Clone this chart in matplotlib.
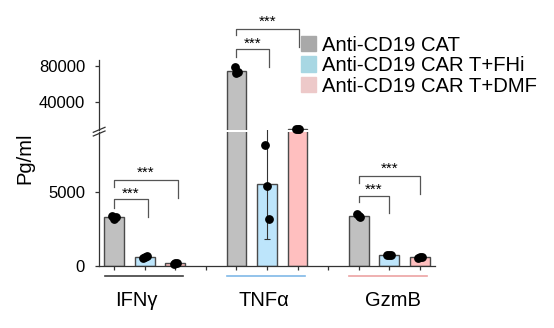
import numpy as np
import matplotlib
matplotlib.use("Agg")
from matplotlib import pyplot as plt
from matplotlib.patches import Rectangle
from matplotlib.lines import Line2D

plt.rcParams['font.family'] = ['Liberation Sans', 'DejaVu Sans']

# cytokine groups and treatments
cytokines = ["IFNγ", "TNFα", "GzmB"]
treatments = ["Anti-CD19 CAT", "Anti-CD19 CAR T+FHi", "Anti-CD19 CAR T+DMF"]

# mean concentration (pg/ml) per cytokine, one value per treatment
means = {
    "IFNγ": [3290, 575, 165],
    "TNFα": [74650, 5600, 10700],
    "GzmB": [3420, 710, 575],
}
errors = {
    "IFNγ": [120, 60, 30],
    "TNFα": [3300, 3800, 120],
    "GzmB": [90, 20, 40],
}
# individual replicates
replicates = {
    "IFNγ": [[3400, 3150, 3320], [500, 560, 650], [140, 160, 190]],
    "TNFα": [[78500, 72000, 73500], [8200, 5400, 3200], [10600, 10800, 10700]],
    "GzmB": [[3520, 3380, 3350], [700, 730, 710], [540, 580, 610]],
}
# significance brackets: (left, right, top, left leg end, right leg end, star height)
brackets = {
    "IFNγ": [(0, 1.1, 4520, 3930, 3340, 5230), (0, 2.07, 5840, 5360, 4610, 6680)],
    "TNFα": [(0, 1.08, 98250, 89840, 78910, 108850), (0, 2.05, 119780, 113550, 100770, 132900)],
    "GzmB": [(0, 1.0, 4770, 4360, 3570, 5500), (0, 2.0, 6130, 5610, 4880, 6910)],
}

bar_colors = ["#c0c0c0", "#bde5fb", "#ffbfbf"]
legend_colors = ["#a9a9a9", "#a8d7e3", "#edc9c9"]
line_colors = ["#404040", "#80b9e8", "#eca3a3"]
label_nudge = [-0.27, -0.1, 0.11]

fig = plt.figure(figsize=(5.54, 3.28), dpi=100)
W, H = 554, 328
ax_lo = fig.add_axes([99 / W, (H - 265.7) / H, 336 / W, 134 / H])
ax_hi = fig.add_axes([99 / W, (H - 129.7) / H, 336 / W, 69.7 / H])

ax_lo.set_ylim(0, 9130)
ax_hi.set_ylim(10050, 86230)
for ax in (ax_lo, ax_hi):
    ax.set_xlim(-0.5, 10.5)
    ax.spines['top'].set_visible(False)
    ax.spines['right'].set_visible(False)
    ax.spines['left'].set_color('#333333')
    ax.spines['left'].set_linewidth(0.9)
    ax.tick_params(axis='y', length=3, width=0.9, color='#333333', pad=7, labelsize=12)
ax_hi.spines['bottom'].set_visible(False)
ax_hi.set_xticks([])
ax_hi.set_yticks([40000, 80000])
ax_lo.set_yticks([0, 5000])
ax_lo.spines['bottom'].set_color('#333333')
ax_lo.spines['bottom'].set_linewidth(0.9)
ax_lo.set_xticks(np.arange(11))
ax_lo.set_xticklabels([])
ax_lo.tick_params(axis='x', length=3, width=0.9, color='#333333')

width = 0.65
for g, name in enumerate(cytokines):
    base = 4 * g
    xs = base + np.arange(3)
    for ax in (ax_lo, ax_hi):
        ax.bar(xs, means[name], width=width, color=bar_colors,
               edgecolor='#4a4a4a', linewidth=1.0, zorder=2)
    for j in range(3):
        m, e = means[name][j], errors[name][j]
        ax = ax_hi if m > 10050 else ax_lo
        ax.errorbar(xs[j], m, yerr=e, fmt='none', ecolor='#333333',
                    elinewidth=0.8, capsize=2, capthick=0.8, zorder=3, clip_on=False)
        pts = replicates[name][j]
        jit = np.array([-0.06, 0.0, 0.06])
        for v, dx in zip(pts, jit):
            a = ax_hi if v > 10050 else ax_lo
            a.scatter(xs[j] + dx, v, s=28, color='black', zorder=4, clip_on=False)

    # significance brackets
    bax = ax_hi if name == "TNFα" else ax_lo
    for x0, x1, top, yl, yr, ys in brackets[name]:
        bax.plot([base + x0, base + x0, base + x1, base + x1], [yl, top, top, yr],
                 color='#555555', lw=0.9, clip_on=False, zorder=3)
        bax.annotate('***', (base + (x0 + x1) / 2, ys), xytext=(0, -6.3),
                     textcoords='offset points', ha='center', va='baseline',
                     fontsize=11, annotation_clip=False)

    # group underline and label
    trans = ax_lo.get_xaxis_transform()
    ax_lo.plot([base - 0.3, base + 2.25], [-10 / 134, -10 / 134], color=line_colors[g],
               lw=1.2, transform=trans, clip_on=False)
    ax_lo.text(base + 1 + label_nudge[g], -34.3 / 134, name, transform=trans,
               ha='center', va='center', fontsize=14.5)

# axis break marks
for y0 in (132.3, 136.0):
    fig.add_artist(Line2D([93.3 / W, 105 / W], [(H - y0) / H, (H - y0 + 5) / H],
                          color='#333333', lw=0.9))

fig.text(25 / W, (H - 158) / H, "Pg/ml", rotation=90, ha='center', va='center', fontsize=14.5)

# legend
for i, lab in enumerate(treatments):
    cy = 43.5 + 20.5 * i
    fig.add_artist(Rectangle((301 / W, (H - cy - 7.5) / H), 15 / W, 15 / H,
                             color=legend_colors[i], transform=fig.transFigure))
    fig.text(321.7 / W, (H - cy - 7.3) / H, lab, ha='left', va='baseline', fontsize=14.6)

fig.savefig("out.png", dpi=100)
